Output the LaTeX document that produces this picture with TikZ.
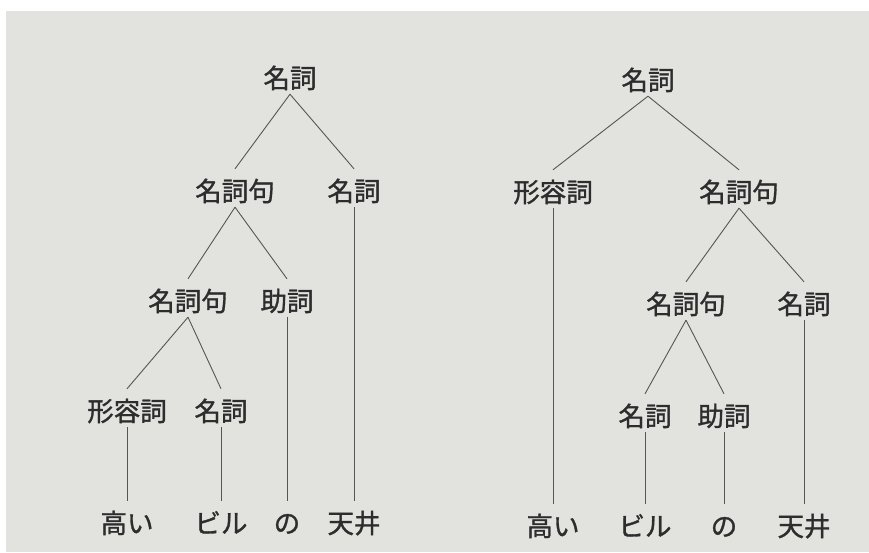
\documentclass[tikz,border=0pt]{standalone}
\usepackage{fontspec}
\newfontfamily\jpfont[FakeBold=1.2]{Noto Sans CJK JP}
\definecolor{pagegray}{RGB}{226,226,223}
\definecolor{inkgray}{RGB}{45,45,45}
\definecolor{linegray}{RGB}{85,85,85}

\begin{document}
\begin{tikzpicture}[x=1pt, y=-1pt,
    cat/.style={anchor=base, inner sep=0pt, text height=32pt, text depth=6pt,
      font=\jpfont\fontsize{26.5}{30}\selectfont, text=inkgray},
    br/.style={draw=linegray, line width=0.9pt}]
    %page
    \useasboundingbox (0,0) rectangle (869,552);
    \fill[white] (0,0) rectangle (869,552);
    \fill[pagegray] (6,11) rectangle (869,552);

    %left tree
    \node[cat] at (290,88) (Lroot){名詞};
    \node[cat] at (235,201) (Lnpa){名詞句};
    \node[cat] at (354,201) (Lnb){名詞};
    \node[cat] at (188,311) (Lnpb){名詞句};
    \node[cat] at (287,311) (Lpa){助詞};
    \node[cat] at (127,421) (Ladj){形容詞};
    \node[cat] at (221,421) (Lnc){名詞};
    \node[cat] at (127,533) (Lw1){高い};
    \node[cat] at (221,533) (Lw2){ビル};
    \node[cat] at (287,533) (Lw3){の};
    \node[cat] at (354,533) (Lw4){天井};
    \draw[br] (Lroot.south) -- (Lnpa.north);
    \draw[br] (Lroot.south) -- (Lnb.north);
    \draw[br] (Lnpa.south) -- (Lnpb.north);
    \draw[br] (Lnpa.south) -- (Lpa.north);
    \draw[br] (Lnpb.south) -- (Ladj.north);
    \draw[br] (Lnpb.south) -- (Lnc.north);
    \draw[br] (Ladj.south) -- (Lw1.north);
    \draw[br] (Lnc.south) -- (Lw2.north);
    \draw[br] (Lpa.south) -- (Lw3.north);
    \draw[br] (Lnb.south) -- (Lw4.north);

    %right tree
    \node[cat] at (648,90) (Rroot){名詞};
    \node[cat] at (553,202) (Radj){形容詞};
    \node[cat] at (739,202) (Rnpa){名詞句};
    \node[cat] at (686,314) (Rnpb){名詞句};
    \node[cat] at (804,314) (Rnb){名詞};
    \node[cat] at (645,426) (Rnc){名詞};
    \node[cat] at (724,426) (Rpa){助詞};
    \node[cat] at (553,536) (Rw1){高い};
    \node[cat] at (645,536) (Rw2){ビル};
    \node[cat] at (724,536) (Rw3){の};
    \node[cat] at (804,536) (Rw4){天井};
    \draw[br] (Rroot.south) -- (Radj.north);
    \draw[br] (Rroot.south) -- (Rnpa.north);
    \draw[br] (Rnpa.south) -- (Rnpb.north);
    \draw[br] (Rnpa.south) -- (Rnb.north);
    \draw[br] (Rnpb.south) -- (Rnc.north);
    \draw[br] (Rnpb.south) -- (Rpa.north);
    \draw[br] (Radj.south) -- (Rw1.north);
    \draw[br] (Rnc.south) -- (Rw2.north);
    \draw[br] (Rpa.south) -- (Rw3.north);
    \draw[br] (Rnb.south) -- (Rw4.north);
  \end{tikzpicture}
\end{document}
